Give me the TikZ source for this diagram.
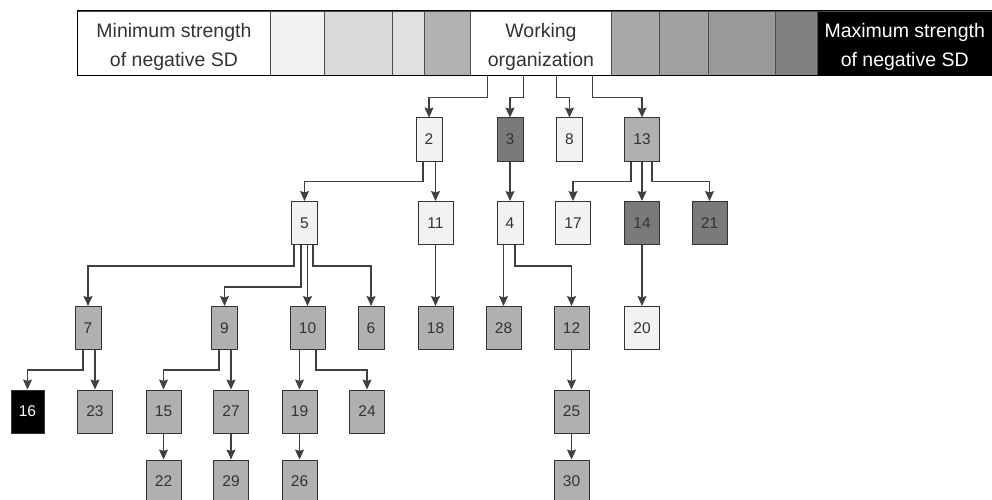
\documentclass[tikz,border=0pt]{standalone}
\usepackage{fontspec}
\setmainfont{Liberation Sans}
\usetikzlibrary{arrows.meta}

\definecolor{shadeA}{gray}{0.95}
\definecolor{shadeB}{gray}{0.85}
\definecolor{shadeC}{gray}{0.88}
\definecolor{shadeD}{gray}{0.70}
\definecolor{shadeE}{gray}{0.66}
\definecolor{shadeF}{gray}{0.63}
\definecolor{shadeG}{gray}{0.60}
\definecolor{shadeH}{gray}{0.50}
\definecolor{boxlight}{gray}{0.95}
\definecolor{boxmid}{gray}{0.69}
\definecolor{boxdark}{gray}{0.48}

\begin{document}
\begin{tikzpicture}[x=1pt, y=-1pt]
        \tikzstyle{cell}=[rectangle,draw=black!70,line width=0.9pt,anchor=north west,minimum height=64pt,inner sep=0pt]
        \tikzstyle{headtext}=[align=center,text=black!80,font=\fontsize{19.5}{29}\selectfont,inner sep=0pt]
        \tikzstyle{box}=[rectangle,draw=black!80,line width=1pt,minimum width=26pt,minimum height=43pt,inner sep=0pt,text=black!80,font=\fontsize{15.5}{17}\selectfont]
        \tikzstyle{wbox}=[box,minimum width=35pt]
        \tikzstyle{link}=[draw=black!75,line width=1.2pt,-{Stealth[length=10pt,width=9pt,inset=1.5pt]}]

        \useasboundingbox (0,0) rectangle (992,500);

        % scale of strength
        \node[cell,fill=white,minimum width=193pt] (H_1) at (77,11) {};
        \node[cell,fill=shadeA,minimum width=54pt] (H_2) at (270,11) {};
        \node[cell,fill=shadeB,minimum width=68pt] (H_3) at (324,11) {};
        \node[cell,fill=shadeC,minimum width=32pt] (H_4) at (392,11) {};
        \node[cell,fill=shadeD,minimum width=46pt] (H_5) at (424,11) {};
        \node[cell,fill=white,minimum width=141pt] (H_6) at (470,11) {};
        \node[cell,fill=shadeE,minimum width=48pt] (H_7) at (611,11) {};
        \node[cell,fill=shadeF,minimum width=49pt] (H_8) at (659,11) {};
        \node[cell,fill=shadeG,minimum width=67pt] (H_9) at (708,11) {};
        \node[cell,fill=shadeH,minimum width=42pt] (H_10) at (775,11) {};
        \node[cell,fill=black,minimum width=174.5pt] (H_11) at (817,11) {};
        \draw[black,line width=1pt] (H_1.north west) rectangle (H_11.south east);

        \node[headtext] (T_1) at ([yshift=-4pt]H_1.center) {Minimum strength\\of negative SD};
        \node[headtext] (T_6) at ([yshift=-4pt]H_6.center) {Working\\organization};
        \node[headtext,text=white] (T_11) at ([yshift=-4pt]H_11.center) {Maximum strength\\of negative SD};

        % tree
        \node[box,fill=boxlight] (N_2) at (429,139.5) {2};
        \node[box,fill=boxdark] (N_3) at (510,139.5) {3};
        \node[box,fill=boxlight] (N_8) at (569.5,139.5) {8};
        \node[wbox,fill=boxmid] (N_13) at (642,139.5) {13};

        \node[box,fill=boxlight] (N_5) at (304.5,223) {5};
        \node[wbox,fill=boxlight] (N_11) at (435.5,223) {11};
        \node[box,fill=boxlight] (N_4) at (510,223) {4};
        \node[wbox,fill=boxlight] (N_17) at (573,223) {17};
        \node[wbox,fill=boxdark] (N_14) at (642,223) {14};
        \node[wbox,fill=boxdark] (N_21) at (709.5,223) {21};

        \node[box,fill=boxmid] (N_7) at (88,328) {7};
        \node[box,fill=boxmid] (N_9) at (224.5,328) {9};
        \node[wbox,fill=boxmid] (N_10) at (307.5,328) {10};
        \node[box,fill=boxmid] (N_6) at (371,328) {6};
        \node[wbox,fill=boxmid] (N_18) at (435.5,328) {18};
        \node[wbox,fill=boxmid] (N_28) at (503.5,328) {28};
        \node[wbox,fill=boxmid] (N_12) at (571.5,328) {12};
        \node[wbox,fill=boxlight] (N_20) at (642,328) {20};

        \node[wbox,fill=black,text=white,minimum width=33pt] (N_16) at (27.5,411.5) {16};
        \node[wbox,fill=boxmid] (N_23) at (95,411.5) {23};
        \node[wbox,fill=boxmid] (N_15) at (163.5,411.5) {15};
        \node[wbox,fill=boxmid] (N_27) at (231,411.5) {27};
        \node[wbox,fill=boxmid] (N_19) at (299.5,411.5) {19};
        \node[wbox,fill=boxmid] (N_24) at (367,411.5) {24};
        \node[wbox,fill=boxmid] (N_25) at (571.5,411.5) {25};

        \node[wbox,fill=boxmid] (N_22) at (163.5,481.5) {22};
        \node[wbox,fill=boxmid] (N_29) at (231,481.5) {29};
        \node[wbox,fill=boxmid] (N_26) at (299.5,481.5) {26};
        \node[wbox,fill=boxmid] (N_30) at (571.5,481.5) {30};

        \draw[link] ([xshift=-53.5pt]H_6.south) -- ++(0,22) -| (N_2);
        \draw[link] ([xshift=-17.5pt]H_6.south) -- ++(0,22) -| (N_3);
        \draw[link] ([xshift=15.5pt]H_6.south) -- ++(0,22) -| (N_8);
        \draw[link] ([xshift=51.5pt]H_6.south) -- ++(0,22) -| (N_13);

        \draw[link] ([xshift=-6pt]N_2.south) -- ++(0,20) -| (N_5);
        \draw[link] (N_2.south -| N_11) -- (N_11);
        \draw[link] (N_3) -- (N_4);
        \draw[link] ([xshift=-11pt]N_13.south) -- ++(0,20) -| (N_17);
        \draw[link] (N_13) -- (N_14);
        \draw[link] ([xshift=10pt]N_13.south) -- ++(0,20) -| (N_21);

        \draw[link] ([xshift=-10.5pt]N_5.south) -- ++(0,21) -| (N_7);
        \draw[link] ([xshift=-3.5pt]N_5.south) -- ++(0,42) -| (N_9);
        \draw[link] (N_5.south -| N_10) -- (N_10);
        \draw[link] ([xshift=8.5pt]N_5.south) -- ++(0,21) -| (N_6);
        \draw[link] (N_11) -- (N_18);
        \draw[link] (N_4.south -| N_28) -- (N_28);
        \draw[link] ([xshift=5pt]N_4.south) -- ++(0,21) -| (N_12);
        \draw[link] (N_14) -- (N_20);

        \draw[link] ([xshift=-5pt]N_7.south) -- ++(0,20) -| (N_16);
        \draw[link] (N_7.south -| N_23) -- (N_23);
        \draw[link] ([xshift=-5.5pt]N_9.south) -- ++(0,20) -| (N_15);
        \draw[link] (N_9.south -| N_27) -- (N_27);
        \draw[link] (N_10.south -| N_19) -- (N_19);
        \draw[link] ([xshift=8.5pt]N_10.south) -- ++(0,20) -| (N_24);
        \draw[link] (N_12) -- (N_25);

        \draw[link] (N_15) -- (N_22);
        \draw[link] (N_27) -- (N_29);
        \draw[link] (N_19) -- (N_26);
        \draw[link] (N_25) -- (N_30);
\end{tikzpicture}
\end{document}
